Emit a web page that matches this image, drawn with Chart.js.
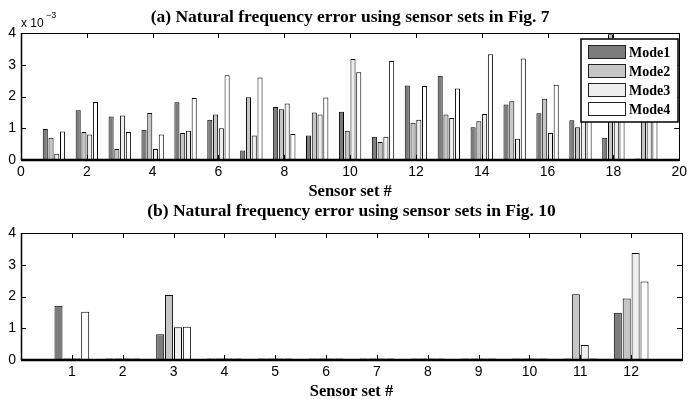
<!DOCTYPE html>
<html lang="en">
<head>
<meta charset="UTF-8">
<title>Natural frequency error using sensor sets</title>
<script src="https://cdn.jsdelivr.net/npm/chart.js"></script>
<style>
  body { margin: 0; background: #fff; }
  #wrap { position: relative; width: 691px; height: 399px; }
  canvas { position: absolute; left: 0; }
  #chartA { top: 0; }
  #chartB { top: 195px; }
</style>
</head>
<body>
<div id="wrap">
  <canvas id="chartA" width="691" height="199"></canvas>
  <canvas id="chartB" width="691" height="204"></canvas>
</div>
<script>
// values are in units of 1e-3
const modeNames = ['Mode1', 'Mode2', 'Mode3', 'Mode4'];
const modeColors = ['#7c7c7c', '#c6c6c6', '#eeeeee', '#ffffff'];

// (a) sensor sets in Fig. 7
const setsA = [1, 2, 3, 4, 5, 6, 7, 8, 9, 10, 11, 12, 13, 14, 15, 16, 17, 18, 19];
const mode1A = [0.98, 1.57, 1.37, 0.95, 1.82, 1.27, 0.30, 1.67, 0.77, 1.52, 0.73, 2.35, 2.65, 1.03, 1.75, 1.47, 1.25, 0.70, 0.05];
const mode2A = [0.70, 0.88, 0.35, 1.48, 0.85, 1.43, 1.98, 1.60, 1.50, 0.92, 0.57, 1.17, 1.43, 1.22, 1.85, 1.93, 1.03, 3.96, 2.00];
const mode3A = [0.20, 0.80, 1.40, 0.35, 0.92, 1.00, 0.77, 1.78, 1.43, 3.18, 0.73, 1.27, 1.32, 1.45, 0.67, 0.85, 1.90, 2.20, 1.80];
const mode4A = [0.90, 1.83, 0.88, 0.80, 1.95, 2.67, 2.60, 0.82, 1.97, 2.76, 3.12, 2.33, 2.25, 3.33, 3.20, 2.37, 2.40, 2.60, 2.90];

// (b) sensor sets in Fig. 10
const setsB = [1, 2, 3, 4, 5, 6, 7, 8, 9, 10, 11, 12];
const mode1B = [1.71, 0.05, 0.81, 0.05, 0.05, 0.05, 0.05, 0.05, 0.05, 0.05, 0.05, 1.49];
const mode2B = [0.05, 0.05, 2.05, 0.05, 0.05, 0.05, 0.05, 0.05, 0.05, 0.05, 2.07, 1.94];
const mode3B = [0.05, 0.05, 1.03, 0.05, 0.05, 0.05, 0.05, 0.05, 0.05, 0.05, 0.47, 3.37];
const mode4B = [1.52, 0.05, 1.05, 0.05, 0.05, 0.05, 0.05, 0.05, 0.05, 0.05, 0.05, 2.47];

const yTicks = [0, 1, 2, 3, 4];

const serif = '"Liberation Serif", "DejaVu Serif", serif';
const sans = '"Liberation Sans", Arial, sans-serif';

function makeDatasets(sets, series, barPct) {
  return series.map((vals, i) => ({
    label: modeNames[i],
    data: sets.map((s, j) => ({ x: s, y: vals[j] })),
    backgroundColor: modeColors[i],
    borderColor: '#000',
    borderWidth: 1,
    borderSkipped: false,
    categoryPercentage: 0.7,
    barPercentage: barPct
  }));
}

// MATLAB style box, inward ticks, titles and legend
const framePlugin = {
  id: 'frame',
  afterDraw(chart, args, opts) {
    const { ctx, chartArea: a, scales: { x, y } } = chart;
    ctx.save();
    ctx.strokeStyle = '#000';
    ctx.lineWidth = 1;
    const line = (x1, y1, x2, y2) => { ctx.beginPath(); ctx.moveTo(x1, y1); ctx.lineTo(x2, y2); ctx.stroke(); };

    x.ticks.forEach(t => {
      if (t.value <= x.min || t.value >= x.max) return;
      const px = Math.round(x.getPixelForValue(t.value)) + 0.5;
      line(px, a.top, px, a.top + 5);
      line(px, a.bottom, px, a.bottom - 5);
    });
    y.ticks.forEach(t => {
      if (t.value <= y.min || t.value >= y.max) return;
      const py = Math.round(y.getPixelForValue(t.value)) + 0.5;
      line(a.left, py, a.left + 5, py);
      line(a.right, py, a.right - 5, py);
    });

    ctx.strokeRect(Math.round(a.left) + 0.5, Math.round(a.top) + 0.5, Math.round(a.width), Math.round(a.height));
    ctx.lineWidth = 2.5;
    line(a.left, Math.round(a.bottom), a.right, Math.round(a.bottom));
    ctx.lineWidth = 1.5;
    line(Math.round(a.left) + 0.5, a.top, Math.round(a.left) + 0.5, a.bottom);

    const cx = (a.left + a.right) / 2;
    ctx.fillStyle = '#000';
    ctx.textAlign = 'center';
    ctx.textBaseline = 'alphabetic';
    ctx.font = 'bold 17.5px ' + serif;
    ctx.fillText(opts.title, cx, opts.titleY);
    ctx.font = 'bold 16.5px ' + serif;
    ctx.fillText('Sensor set #', cx, opts.xTitleY);

    if (opts.exponent) {
      ctx.textAlign = 'left';
      ctx.font = '12px ' + sans;
      ctx.fillText('x 10', a.left, a.top - 6);
      ctx.font = '9px ' + sans;
      ctx.fillText('\u22123', a.left + 25, a.top - 15);
    }

    if (opts.legend) {
      const L = opts.legend;
      ctx.fillStyle = '#fff';
      ctx.fillRect(L.x, L.y, L.w, L.h);
      ctx.lineWidth = 1.5;
      ctx.strokeRect(L.x, L.y, L.w, L.h);
      ctx.lineWidth = 1;
      ctx.font = 'bold 14px ' + serif;
      ctx.textAlign = 'left';
      ctx.textBaseline = 'middle';
      chart.data.datasets.forEach((ds, i) => {
        const ry = L.y + 6 + i * 19;
        ctx.fillStyle = ds.backgroundColor;
        ctx.fillRect(L.x + 7.5, ry + 0.5, 37, 13);
        ctx.strokeStyle = '#222';
        ctx.strokeRect(L.x + 7.5, ry + 0.5, 37, 13);
        ctx.fillStyle = '#000';
        ctx.fillText(ds.label, L.x + 48, ry + 8);
      });
    }
    ctx.restore();
  }
};

function makeChart(id, sets, series, opts) {
  return new Chart(document.getElementById(id), {
    type: 'bar',
    data: { datasets: makeDatasets(sets, series, opts.barPct) },
    options: {
      responsive: false,
      animation: false,
      layout: { padding: { top: opts.padTop, right: opts.padRight, left: 0, bottom: 0 } },
      plugins: {
        legend: { display: false },
        tooltip: { enabled: false },
        frame: opts.frame
      },
      scales: {
        x: {
          type: 'linear',
          offset: false,
          min: opts.xMin,
          max: opts.xMax,
          grid: { display: false, drawTicks: false, offset: false },
          border: { display: false },
          afterFit: s => { s.height = opts.xHeight; },
          ticks: {
            stepSize: opts.xStep,
            padding: 4,
            color: '#000',
            font: { family: sans, size: 14 },
            callback: v => (opts.hideEnds && (v === opts.xMin || v === opts.xMax)) ? '' : v
          }
        },
        y: {
          min: 0,
          max: 4,
          grid: { display: false, drawTicks: false },
          border: { display: false },
          afterFit: s => { s.width = 21; },
          afterBuildTicks: s => { s.ticks = yTicks.map(v => ({ value: v })); },
          ticks: {
            padding: 5,
            color: '#000',
            font: { family: sans, size: 14 }
          }
        }
      }
    },
    plugins: [framePlugin]
  });
}

makeChart('chartA', setsA, [mode1A, mode2A, mode3A, mode4A], {
  barPct: 0.88, padTop: 33, padRight: 8, xMin: 0, xMax: 20, xStep: 2, xHeight: 39, hideEnds: false,
  frame: {
    title: '(a) Natural frequency error using sensor sets in Fig. 7',
    titleY: 22, xTitleY: 196, exponent: true,
    legend: { x: 581, y: 39, w: 97, h: 83 }
  }
});

makeChart('chartB', setsB, [mode1B, mode2B, mode3B, mode4B], {
  barPct: 0.9, padTop: 38, padRight: 9, xMin: 0, xMax: 13, xStep: 1, xHeight: 39, hideEnds: true,
  frame: {
    title: '(b) Natural frequency error using sensor sets in Fig. 10',
    titleY: 21, xTitleY: 201, exponent: false, legend: null
  }
});
</script>
</body>
</html>
